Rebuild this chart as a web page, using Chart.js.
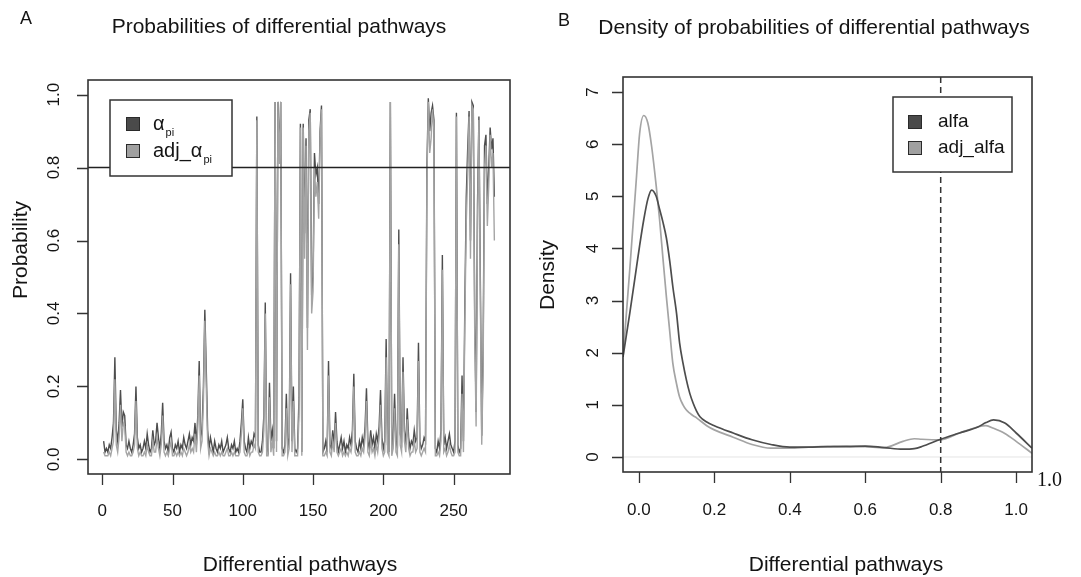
<!DOCTYPE html>
<html>
<head>
<meta charset="utf-8">
<title>Probabilities of differential pathways</title>
<script src="https://cdn.jsdelivr.net/npm/chart.js@4.4.0/dist/chart.umd.min.js"></script>
<style>
  body { margin: 0; background: #fff; }
  #wrap { position: relative; width: 1081px; height: 577px; overflow: hidden; }
  .panel { position: absolute; top: 0; height: 577px; }
</style>
</head>
<body>
<div id="wrap">
  <div class="panel" style="left:0;width:540px"><canvas id="chartA"></canvas></div>
  <div class="panel" style="left:530px;width:551px"><canvas id="chartB"></canvas></div>
</div>
<script>
// ---- panel A: probability of each differential pathway (index 1..279) ----
const alphaPi = [
  0.05, 0.02, 0.03, 0.02, 0.04, 0.03, 0.06, 0.10, 0.28, 0.08,
  0.05, 0.10, 0.19, 0.09, 0.13, 0.12, 0.04, 0.03, 0.05, 0.03,
  0.02, 0.04, 0.07, 0.20, 0.06, 0.03, 0.04, 0.02, 0.03, 0.05,
  0.03, 0.07, 0.04, 0.02, 0.03, 0.08, 0.04, 0.05, 0.10, 0.06,
  0.03, 0.07, 0.155, 0.05, 0.03, 0.04, 0.02, 0.06, 0.075, 0.03,
  0.02, 0.04, 0.03, 0.05, 0.02, 0.04, 0.03, 0.06, 0.04, 0.03,
  0.05, 0.07, 0.04, 0.06, 0.05, 0.10, 0.04, 0.12, 0.27, 0.06,
  0.08, 0.20, 0.41, 0.25, 0.08, 0.03, 0.06, 0.04, 0.02, 0.05,
  0.03, 0.02, 0.04, 0.03, 0.05, 0.02, 0.03, 0.04, 0.06, 0.03,
  0.02, 0.04, 0.03, 0.05, 0.02, 0.03, 0.02, 0.05, 0.10, 0.165,
  0.05, 0.03, 0.02, 0.06, 0.03, 0.05, 0.04, 0.07, 0.06, 0.94,
  0.04, 0.02, 0.02, 0.05, 0.12, 0.43, 0.03, 0.02, 0.21, 0.05,
  0.08, 0.03, 0.98, 0.05, 0.98, 0.84, 0.98, 0.03, 0.02, 0.04,
  0.18, 0.03, 0.06, 0.51, 0.05, 0.20, 0.03, 0.02, 0.03, 0.17,
  0.92, 0.02, 0.92, 0.62, 0.88, 0.36, 0.93, 0.96, 0.45, 0.50,
  0.84, 0.78, 0.80, 0.70, 0.90, 0.97, 0.02, 0.03, 0.05, 0.02,
  0.27, 0.04, 0.03, 0.08, 0.04, 0.13, 0.05, 0.02, 0.04, 0.06,
  0.03, 0.05, 0.02, 0.04, 0.03, 0.06, 0.04, 0.08, 0.235, 0.05,
  0.03, 0.02, 0.05, 0.03, 0.06, 0.04, 0.09, 0.195, 0.05, 0.03,
  0.08, 0.04, 0.06, 0.03, 0.07, 0.05, 0.09, 0.19, 0.06, 0.03,
  0.05, 0.33, 0.04, 0.02, 0.98, 0.03, 0.06, 0.18, 0.05, 0.03,
  0.63, 0.07, 0.05, 0.28, 0.08, 0.04, 0.14, 0.06, 0.03, 0.05,
  0.04, 0.08, 0.05, 0.06, 0.32, 0.05, 0.03, 0.04, 0.06, 0.05,
  0.80, 0.99, 0.90, 0.95, 0.97, 0.93, 0.03, 0.02, 0.05, 0.03,
  0.08, 0.56, 0.04, 0.06, 0.03, 0.05, 0.07, 0.04, 0.03, 0.02,
  0.05, 0.95, 0.04, 0.02, 0.03, 0.23, 0.05, 0.43, 0.72, 0.85,
  0.955, 0.60, 0.98, 0.97, 0.40, 0.13, 0.70, 0.94, 0.50, 0.065,
  0.30, 0.86, 0.89, 0.70, 0.80, 0.91, 0.85, 0.88, 0.72
];
const adjAlphaPi = [
  0.02, 0.01, 0.01, 0.01, 0.02, 0.01, 0.03, 0.05, 0.22, 0.04,
  0.02, 0.06, 0.15, 0.05, 0.10, 0.09, 0.02, 0.01, 0.02, 0.01,
  0.01, 0.02, 0.04, 0.16, 0.03, 0.01, 0.02, 0.01, 0.01, 0.02,
  0.01, 0.04, 0.02, 0.01, 0.01, 0.05, 0.02, 0.02, 0.06, 0.03,
  0.01, 0.04, 0.12, 0.02, 0.01, 0.02, 0.01, 0.03, 0.05, 0.01,
  0.01, 0.02, 0.01, 0.02, 0.01, 0.02, 0.01, 0.03, 0.02, 0.01,
  0.02, 0.04, 0.02, 0.03, 0.02, 0.07, 0.02, 0.09, 0.23, 0.03,
  0.05, 0.16, 0.38, 0.20, 0.05, 0.01, 0.03, 0.02, 0.01, 0.02,
  0.01, 0.01, 0.02, 0.01, 0.02, 0.01, 0.01, 0.02, 0.03, 0.01,
  0.01, 0.02, 0.01, 0.02, 0.01, 0.01, 0.01, 0.02, 0.07, 0.14,
  0.02, 0.01, 0.01, 0.03, 0.01, 0.02, 0.02, 0.04, 0.03, 0.93,
  0.02, 0.01, 0.01, 0.02, 0.08, 0.40, 0.01, 0.01, 0.17, 0.02,
  0.05, 0.01, 0.98, 0.02, 0.98, 0.81, 0.98, 0.01, 0.01, 0.02,
  0.14, 0.01, 0.03, 0.48, 0.02, 0.16, 0.01, 0.01, 0.01, 0.12,
  0.91, 0.01, 0.91, 0.55, 0.86, 0.30, 0.90, 0.95, 0.40, 0.46,
  0.80, 0.72, 0.76, 0.66, 0.88, 0.96, 0.01, 0.01, 0.02, 0.01,
  0.23, 0.02, 0.01, 0.05, 0.02, 0.10, 0.02, 0.01, 0.02, 0.03,
  0.01, 0.02, 0.01, 0.02, 0.01, 0.03, 0.02, 0.05, 0.20, 0.02,
  0.01, 0.01, 0.02, 0.01, 0.03, 0.02, 0.06, 0.16, 0.02, 0.01,
  0.05, 0.02, 0.03, 0.01, 0.04, 0.02, 0.06, 0.15, 0.03, 0.01,
  0.02, 0.28, 0.02, 0.01, 0.98, 0.01, 0.03, 0.14, 0.02, 0.01,
  0.59, 0.04, 0.02, 0.24, 0.05, 0.02, 0.11, 0.03, 0.01, 0.02,
  0.02, 0.05, 0.02, 0.03, 0.27, 0.02, 0.01, 0.02, 0.03, 0.02,
  0.76, 0.98, 0.84, 0.88, 0.96, 0.90, 0.01, 0.01, 0.02, 0.01,
  0.05, 0.52, 0.02, 0.03, 0.01, 0.02, 0.04, 0.02, 0.01, 0.01,
  0.02, 0.94, 0.02, 0.01, 0.01, 0.18, 0.02, 0.38, 0.65, 0.78,
  0.94, 0.55, 0.97, 0.96, 0.35, 0.09, 0.64, 0.93, 0.45, 0.04,
  0.25, 0.80, 0.86, 0.64, 0.75, 0.89, 0.80, 0.84, 0.60
];
const cutoffA = 0.8;
const xTicksA = [0, 50, 100, 150, 200, 250];
const xLabelsA = ['0', '50', '100', '150', '200', '250'];
const yTicksA = [0, 0.2, 0.4, 0.6, 0.8, 1.0];
const yLabelsA = ['0.0', '0.2', '0.4', '0.6', '0.8', '1.0'];

// ---- panel B: density of the probabilities ----
const densX = [
  -0.042, -0.024, -0.006, 0.002, 0.013, 0.024, 0.034, 0.046, 0.055, 0.064,
  0.073, 0.082, 0.09, 0.1, 0.108, 0.117, 0.126, 0.135, 0.144, 0.153,
  0.162, 0.18, 0.2, 0.25, 0.3, 0.35, 0.4, 0.45, 0.5, 0.55,
  0.6, 0.65, 0.7, 0.73, 0.75, 0.8, 0.85, 0.9, 0.92, 0.94,
  0.97, 1.0, 1.042
];
const densAlfa = [
  1.92, 2.76, 3.65, 4.05, 4.55, 4.95, 5.12, 5.0, 4.75, 4.5,
  4.2, 3.75, 3.27, 2.75, 2.19, 1.8, 1.48, 1.22, 1.03, 0.88,
  0.77, 0.67, 0.6, 0.46, 0.33, 0.24, 0.19, 0.19, 0.2, 0.2,
  0.21, 0.18, 0.15, 0.16, 0.2, 0.34, 0.46, 0.58, 0.66, 0.71,
  0.65, 0.46, 0.17
];
const densAdjAlfa = [
  1.92, 3.6, 5.4, 6.2, 6.55, 6.4, 5.95, 5.2, 4.55, 3.8,
  3.07, 2.4, 1.8, 1.4, 1.15, 1.0, 0.9, 0.84, 0.79, 0.75,
  0.7, 0.6, 0.52, 0.38, 0.24, 0.17, 0.17, 0.19, 0.2, 0.21,
  0.2, 0.18, 0.3, 0.35, 0.34, 0.33, 0.46, 0.58, 0.6, 0.55,
  0.45, 0.3, 0.07
];
const cutoffB = 0.8;
const xTicksB = [0, 0.2, 0.4, 0.6, 0.8, 1.0];
const xLabelsB = ['0.0', '0.2', '0.4', '0.6', '0.8', '1.0'];
const yTicksB = [0, 1, 2, 3, 4, 5, 6, 7];
const yLabelsB = ['0', '1', '2', '3', '4', '5', '6', '7'];

const FONT = '"Liberation Sans", Arial, Helvetica, sans-serif';
const DARK = '#4d4d4d';
const LIGHT = '#a4a4a4';
const INK = '#141414';

// R-like axes: box, outward ticks, rotated y labels, titles
function drawAxes(chart, spec) {
  const ctx = chart.ctx, a = chart.chartArea;
  const xs = chart.scales.x, ys = chart.scales.y;
  ctx.save();
  ctx.strokeStyle = '#333';
  ctx.lineWidth = 1.6;
  ctx.strokeRect(a.left, a.top, a.right - a.left, a.bottom - a.top);

  ctx.lineWidth = 1.3;
  ctx.beginPath();
  spec.xTicks.forEach(v => {
    const px = Math.round(xs.getPixelForValue(v)) + 0.5;
    ctx.moveTo(px, a.bottom);
    ctx.lineTo(px, a.bottom + 11);
  });
  spec.yTicks.forEach(v => {
    const py = Math.round(ys.getPixelForValue(v)) + 0.5;
    ctx.moveTo(a.left, py);
    ctx.lineTo(a.left - 11, py);
  });
  ctx.stroke();

  ctx.fillStyle = INK;
  ctx.textAlign = 'center';
  ctx.textBaseline = 'middle';
  ctx.font = '17px ' + FONT;
  spec.xTicks.forEach((v, i) => ctx.fillText(spec.xLabels[i], xs.getPixelForValue(v), spec.xLabelY));
  spec.yTicks.forEach((v, i) => {
    ctx.save();
    ctx.translate(spec.yLabelX, ys.getPixelForValue(v));
    ctx.rotate(-Math.PI / 2);
    ctx.fillText(spec.yLabels[i], 0, 0);
    ctx.restore();
  });

  ctx.font = '21px ' + FONT;
  ctx.fillText(spec.xTitle, spec.xTitleAt[0], spec.xTitleAt[1]);
  ctx.fillText(spec.title, spec.titleAt[0], spec.titleAt[1]);
  ctx.save();
  ctx.translate(spec.yTitleAt[0], spec.yTitleAt[1]);
  ctx.rotate(-Math.PI / 2);
  ctx.fillText(spec.yTitle, 0, 0);
  ctx.restore();

  ctx.font = '18px ' + FONT;
  ctx.fillText(spec.letter, spec.letterAt[0], spec.letterAt[1]);
  ctx.restore();
}

// legend with filled squares; optional subscript after the label
function drawLegend(ctx, lg) {
  ctx.save();
  ctx.fillStyle = '#fff';
  ctx.fillRect(lg.x, lg.y, lg.w, lg.h);
  ctx.strokeStyle = '#333';
  ctx.lineWidth = 1.5;
  ctx.strokeRect(lg.x, lg.y, lg.w, lg.h);
  ctx.textBaseline = 'middle';
  ctx.textAlign = 'left';
  lg.items.forEach((it, i) => {
    const cy = lg.rowY[i];
    ctx.fillStyle = it.color;
    ctx.fillRect(lg.boxX, cy - 7, 14, 14);
    ctx.strokeStyle = '#2a2a2a';
    ctx.lineWidth = 1;
    ctx.strokeRect(lg.boxX + 0.5, cy - 6.5, 13, 13);
    ctx.fillStyle = INK;
    ctx.font = lg.fontPx + 'px ' + FONT;
    ctx.fillText(it.text, lg.textX, cy);
    if (it.sub) {
      const w = ctx.measureText(it.text).width;
      ctx.font = '11px ' + FONT;
      ctx.fillText(it.sub, lg.textX + w + 1, cy + 9);
    }
  });
  ctx.restore();
}

document.addEventListener('DOMContentLoaded', function() {
  const baseOptions = {
    responsive: true,
    maintainAspectRatio: false,
    animation: false,
    events: [],
    plugins: { legend: { display: false }, tooltip: { enabled: false } },
    elements: { point: { radius: 0 } }
  };

  // Panel A
  new Chart(document.getElementById('chartA'), {
    type: 'line',
    data: {
      datasets: [
        {
          label: 'adj_alpha_pi',
          data: adjAlphaPi.map((v, i) => ({ x: i + 1, y: v })),
          borderColor: LIGHT,
          borderWidth: 1.4,
          tension: 0,
          order: 1
        },
        {
          label: 'alpha_pi',
          data: alphaPi.map((v, i) => ({ x: i + 1, y: v })),
          borderColor: DARK,
          borderWidth: 1.4,
          tension: 0,
          order: 2
        }
      ]
    },
    options: Object.assign({}, baseOptions, {
      layout: { padding: { left: 88, top: 80, right: 30, bottom: 103 } },
      scales: {
        x: { type: 'linear', min: -10.12, max: 290.12, display: false },
        y: { type: 'linear', min: -0.04, max: 1.04, display: false }
      }
    }),
    plugins: [{
      id: 'rFrameA',
      afterDatasetsDraw(chart) {
        const ctx = chart.ctx, a = chart.chartArea;
        const py = chart.scales.y.getPixelForValue(cutoffA);
        ctx.save();
        ctx.strokeStyle = '#222';
        ctx.lineWidth = 1.5;
        ctx.beginPath();
        ctx.moveTo(a.left, py);
        ctx.lineTo(a.right, py);
        ctx.stroke();
        ctx.restore();
        drawLegend(ctx, {
          x: 110, y: 100, w: 122, h: 76, boxX: 126, textX: 153, fontPx: 20,
          rowY: [124, 151],
          items: [
            { color: '#4a4a4a', text: 'α', sub: 'pi' },
            { color: '#a0a0a0', text: 'adj_α', sub: 'pi' }
          ]
        });
        drawAxes(chart, {
          xTicks: xTicksA, xLabels: xLabelsA, yTicks: yTicksA, yLabels: yLabelsA,
          xLabelY: 511, yLabelX: 54,
          xTitle: 'Differential pathways', xTitleAt: [300, 565],
          yTitle: 'Probability', yTitleAt: [21, 250],
          title: 'Probabilities of differential pathways', titleAt: [279, 27],
          letter: 'A', letterAt: [26, 19]
        });
      }
    }]
  });

  // Panel B
  new Chart(document.getElementById('chartB'), {
    type: 'line',
    data: {
      datasets: [
        {
          label: 'alfa',
          data: densX.map((x, i) => ({ x: x, y: densAlfa[i] })),
          borderColor: DARK,
          borderWidth: 1.7,
          cubicInterpolationMode: 'monotone',
          order: 1
        },
        {
          label: 'adj_alfa',
          data: densX.map((x, i) => ({ x: x, y: densAdjAlfa[i] })),
          borderColor: LIGHT,
          borderWidth: 1.7,
          cubicInterpolationMode: 'monotone',
          order: 2
        }
      ]
    },
    options: Object.assign({}, baseOptions, {
      layout: { padding: { left: 93, top: 77, right: 49, bottom: 105 } },
      scales: {
        x: { type: 'linear', min: -0.042, max: 1.042, display: false },
        y: { type: 'linear', min: -0.288, max: 7.288, display: false }
      }
    }),
    plugins: [{
      id: 'rFrameB',
      beforeDatasetsDraw(chart) {
        const ctx = chart.ctx, a = chart.chartArea;
        const py = chart.scales.y.getPixelForValue(0);
        ctx.save();
        ctx.strokeStyle = '#e4e4e4';
        ctx.lineWidth = 1;
        ctx.beginPath();
        ctx.moveTo(a.left, py);
        ctx.lineTo(a.right, py);
        ctx.stroke();
        ctx.restore();
      },
      afterDatasetsDraw(chart) {
        const ctx = chart.ctx, a = chart.chartArea;
        const px = chart.scales.x.getPixelForValue(cutoffB);
        ctx.save();
        ctx.strokeStyle = '#333';
        ctx.lineWidth = 1.5;
        ctx.setLineDash([6, 4]);
        ctx.beginPath();
        ctx.moveTo(px, a.top);
        ctx.lineTo(px, a.bottom);
        ctx.stroke();
        ctx.restore();
        drawLegend(ctx, {
          x: 363, y: 97, w: 119, h: 75, boxX: 378, textX: 408, fontPx: 19,
          rowY: [122, 148],
          items: [
            { color: '#4a4a4a', text: 'alfa' },
            { color: '#a0a0a0', text: 'adj_alfa' }
          ]
        });
        drawAxes(chart, {
          xTicks: xTicksB, xLabels: xLabelsB, yTicks: yTicksB, yLabels: yLabelsB,
          xLabelY: 510, yLabelX: 63,
          xTitle: 'Differential pathways', xTitleAt: [316, 565],
          yTitle: 'Density', yTitleAt: [18, 275],
          title: 'Density of probabilities of differential pathways', titleAt: [284, 28],
          letter: 'B', letterAt: [34, 21]
        });
        // stray serif label sitting right of the x axis end
        ctx.save();
        ctx.fillStyle = '#111';
        ctx.font = '20px "Liberation Serif", "Times New Roman", serif';
        ctx.textAlign = 'left';
        ctx.textBaseline = 'middle';
        ctx.fillText('1.0', 507, 481);
        ctx.restore();
      }
    }]
  });
});
</script>
</body>
</html>
